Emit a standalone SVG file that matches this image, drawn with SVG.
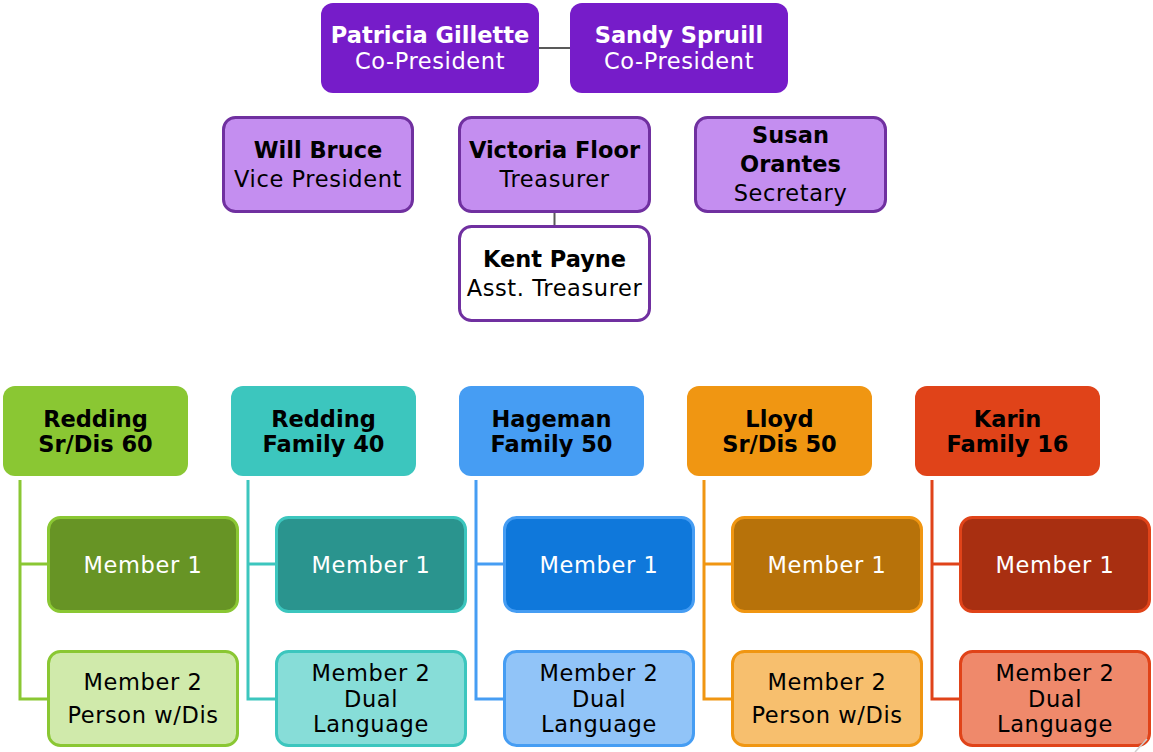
<svg xmlns="http://www.w3.org/2000/svg" width="1153" height="752" viewBox="0 0 1153 752">
<style>
text{font-family:"DejaVu Sans","Liberation Sans",sans-serif;text-anchor:middle;font-size:22.5px;letter-spacing:0.6px}
.b{font-weight:700;font-size:22.5px;letter-spacing:0}
.w{fill:#fff}
.k{fill:#000}
.top{fill:#761CC9}
.off{fill:#C48EF0;stroke:#7030A0;stroke-width:3}
.asst{fill:#fff;stroke:#7030A0;stroke-width:3}
.ln{fill:none;stroke-width:3}
</style>
<rect width="1153" height="752" fill="#fff"/>
<g id="connectors">
<line x1="539" y1="48" x2="570" y2="48" stroke="#595959" stroke-width="2"/>
<line x1="554.5" y1="212" x2="554.5" y2="226" stroke="#595959" stroke-width="2"/>
<path class="ln" stroke="#8AC733" d="M20 480V699H48M20 564H48"/>
<path class="ln" stroke="#3CC6BE" d="M248 480V699H276M248 564H276"/>
<path class="ln" stroke="#469DF3" d="M476 480V699H504M476 564H504"/>
<path class="ln" stroke="#F09612" d="M704 480V699H732M704 564H732"/>
<path class="ln" stroke="#E04319" d="M932 480V699H960M932 564H960"/>
</g>
<g id="patricia"><rect class="top" x="321" y="3" width="218" height="90" rx="12"/><text class="b w" x="430" y="43">Patricia Gillette</text><text class="w" x="430" y="69">Co-President</text></g>
<g id="sandy"><rect class="top" x="570" y="3" width="218" height="90" rx="12"/><text class="b w" x="679" y="43">Sandy Spruill</text><text class="w" x="679" y="69">Co-President</text></g>
<g id="will"><rect class="off" x="223.5" y="117.5" width="189" height="94" rx="12"/><text class="b k" x="318" y="158">Will Bruce</text><text class="k" x="318" y="187">Vice President</text></g>
<g id="victoria"><rect class="off" x="459.5" y="117.5" width="190" height="94" rx="12"/><text class="b k" x="554.5" y="158">Victoria Floor</text><text class="k" x="554.5" y="187">Treasurer</text></g>
<g id="susan"><rect class="off" x="695.5" y="117.5" width="190" height="94" rx="12"/><text class="b k" x="790.5" y="143">Susan</text><text class="b k" x="790.5" y="172">Orantes</text><text class="k" x="790.5" y="201">Secretary</text></g>
<g id="kent"><rect class="asst" x="459.5" y="226.5" width="190" height="94" rx="12"/><text class="b k" x="554.5" y="267">Kent Payne</text><text class="k" x="554.5" y="296">Asst. Treasurer</text></g>

<g id="redding-sr">
<rect x="3" y="386" width="185" height="90" rx="12" fill="#8AC733"/>
<text class="b k" x="95.5" y="427">Redding</text><text class="b k" x="95.5" y="452">Sr/Dis 60</text>
</g>
<g id="redding-sr-m1"><rect x="48.5" y="517.5" width="189" height="94" rx="12" fill="#679425" stroke="#8AC733" stroke-width="3"/><text class="w" x="143" y="573">Member 1</text></g>
<g id="redding-sr-m2"><rect x="48.5" y="651.5" width="189" height="94" rx="12" fill="#D0EAAB" stroke="#8AC733" stroke-width="3"/><text class="k" x="143" y="690">Member 2</text><text class="k" x="143" y="723">Person w/Dis</text></g>

<g id="redding-fam">
<rect x="231" y="386" width="185" height="90" rx="12" fill="#3CC6BE"/>
<text class="b k" x="323.5" y="427">Redding</text><text class="b k" x="323.5" y="452">Family 40</text>
</g>
<g id="redding-fam-m1"><rect x="276.5" y="517.5" width="189" height="94" rx="12" fill="#2A948E" stroke="#3CC6BE" stroke-width="3"/><text class="w" x="371" y="573">Member 1</text></g>
<g id="redding-fam-m2"><rect x="276.5" y="651.5" width="189" height="94" rx="12" fill="#87DDD8" stroke="#3CC6BE" stroke-width="3"/><text class="k" x="371" y="681">Member 2</text><text class="k" x="371" y="707">Dual</text><text class="k" x="371" y="732">Language</text></g>

<g id="hageman">
<rect x="459" y="386" width="185" height="90" rx="12" fill="#469DF3"/>
<text class="b k" x="551.5" y="427">Hageman</text><text class="b k" x="551.5" y="452">Family 50</text>
</g>
<g id="hageman-m1"><rect x="504.5" y="517.5" width="189" height="94" rx="12" fill="#0F78DB" stroke="#469DF3" stroke-width="3"/><text class="w" x="599" y="573">Member 1</text></g>
<g id="hageman-m2"><rect x="504.5" y="651.5" width="189" height="94" rx="12" fill="#91C4F8" stroke="#469DF3" stroke-width="3"/><text class="k" x="599" y="681">Member 2</text><text class="k" x="599" y="707">Dual</text><text class="k" x="599" y="732">Language</text></g>

<g id="lloyd">
<rect x="687" y="386" width="185" height="90" rx="12" fill="#F09612"/>
<text class="b k" x="779.5" y="427">Lloyd</text><text class="b k" x="779.5" y="452">Sr/Dis 50</text>
</g>
<g id="lloyd-m1"><rect x="732.5" y="517.5" width="189" height="94" rx="12" fill="#B7720A" stroke="#F09612" stroke-width="3"/><text class="w" x="827" y="573">Member 1</text></g>
<g id="lloyd-m2"><rect x="732.5" y="651.5" width="189" height="94" rx="12" fill="#F7BF6E" stroke="#F09612" stroke-width="3"/><text class="k" x="827" y="690">Member 2</text><text class="k" x="827" y="723">Person w/Dis</text></g>

<g id="karin">
<rect x="915" y="386" width="185" height="90" rx="12" fill="#E04319"/>
<text class="b k" x="1007.5" y="427">Karin</text><text class="b k" x="1007.5" y="452">Family 16</text>
</g>
<g id="karin-m1"><rect x="960.5" y="517.5" width="189" height="94" rx="12" fill="#A82F11" stroke="#E04319" stroke-width="3"/><text class="w" x="1055" y="573">Member 1</text></g>
<g id="karin-m2"><rect x="960.5" y="651.5" width="189" height="94" rx="12" fill="#EF896B" stroke="#E04319" stroke-width="3"/><text class="k" x="1055" y="681">Member 2</text><text class="k" x="1055" y="707">Dual</text><text class="k" x="1055" y="732">Language</text></g>
<line x1="1135" y1="752" x2="1147" y2="739" stroke="#cfcfcf" stroke-width="1.5"/>
</svg>
